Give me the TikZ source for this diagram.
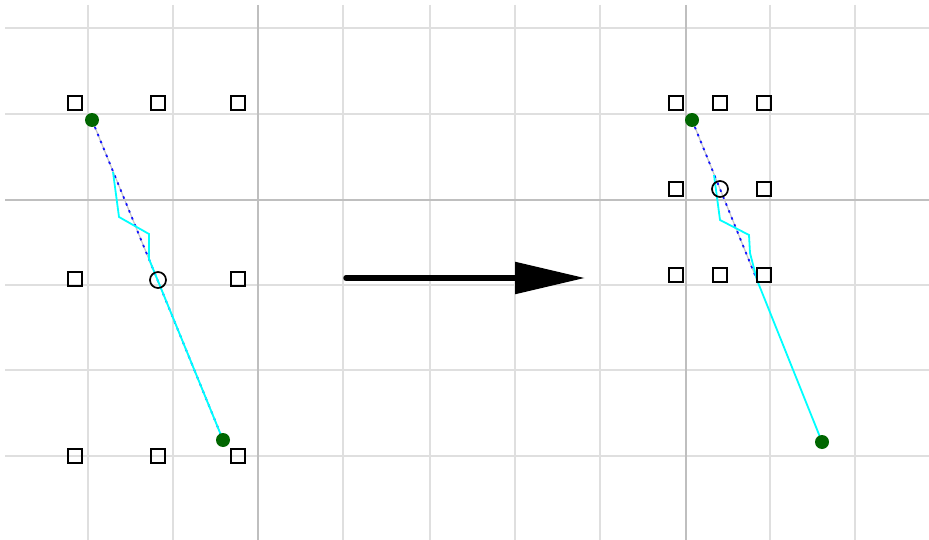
\documentclass[tikz,border=0pt]{standalone}
\usepackage{tikz}
\usetikzlibrary{arrows.meta}
\definecolor{aqua}{RGB}{0,255,255}
\definecolor{dotblue}{RGB}{20,20,255}
\begin{document}
\begin{tikzpicture}[x=1pt, y=-1pt,
  cand/.style={draw=black, line width=2pt, minimum size=13.5pt, inner sep=0pt},
  endpt/.style={circle, fill=green!40!black, minimum size=14pt, inner sep=0pt},
  midpt/.style={circle, draw=black, line width=1.7pt, minimum size=16pt, inner sep=0pt},
  gridln/.style={gray!25, line width=1.8pt},
  gridax/.style={gray!50, line width=1.8pt},
  coarse/.style={dotblue, line width=1.8pt, dash pattern=on 2.5pt off 5pt},
  refined/.style={aqua, line width=1.8pt, line join=miter}]
\useasboundingbox (0,0) rectangle (929,540);

% Grid
\foreach \x in {88,173,343,430,515,600,770,855} \draw[gridln] (\x,5) -- (\x,540);
\foreach \y in {28,114,285,370,456} \draw[gridln] (5,\y) -- (929,\y);
\draw[gridax] (258,5) -- (258,540);
\draw[gridax] (686,5) -- (686,540);
\draw[gridax] (5,200) -- (929,200);

% Left: path points
\coordinate (Lstart) at (92,120);
\coordinate (Lend) at (223,440);
\coordinate (Lmid) at (158,280);
\coordinate (Lb1) at (113,172);
\coordinate (Lb2) at (119,217);
\coordinate (Lb3) at (149,234);
\coordinate (Lb4) at (149,259);

\draw[gray!45, line width=1.2pt] (Lstart) -- (Lend);
\draw[coarse] (Lstart) -- (Lend);
\draw[refined] (Lb1) -- (Lb2) -- (Lb3) -- (Lb4) -- (Lend);

% Left: coarse samples
\foreach \x/\y/\n in {75/103/a, 158/103/b, 238/103/c, 75/279/d, 238/279/e, 75/456/f, 158/456/g, 238/456/h}
  \node[cand] (L\n) at (\x,\y) {};
\node[midpt] at (Lmid) {};
\node[endpt] at (Lstart) {};
\node[endpt] at (Lend) {};

% Arrow
\coordinate (Afrom) at (346,278);
\coordinate (Ato) at (585,278);
\draw[line width=5.5pt, line cap=round, -{Triangle[length=70pt, width=31pt]}] (Afrom) -- (Ato);

% Right: path points
\coordinate (Rstart) at (692,120);
\coordinate (Rend) at (822,442);
\coordinate (Rmid) at (720,189);
\coordinate (Rb1) at (714,175);
\coordinate (Rb2) at (720,220);
\coordinate (Rb3) at (749,235);
\coordinate (Rb4) at (750,253);
\coordinate (Rb5) at (757,280);

\draw[gray!45, line width=1.2pt] (Rstart) -- (Rb5);
\draw[coarse] (Rstart) -- (Rb5);
\draw[refined] (Rb1) -- (Rb2) -- (Rb3) -- (Rb4) -- (Rb5) -- (Rend);

% Right: refined samples
\foreach \x/\y/\n in {676/103/a, 720/103/b, 764/103/c, 676/189/d, 764/189/e, 676/275/f, 720/275/g, 764/275/h}
  \node[cand] (R\n) at (\x,\y) {};
\node[midpt] at (Rmid) {};
\node[endpt] at (Rstart) {};
\node[endpt] at (Rend) {};
\end{tikzpicture}
\end{document}
